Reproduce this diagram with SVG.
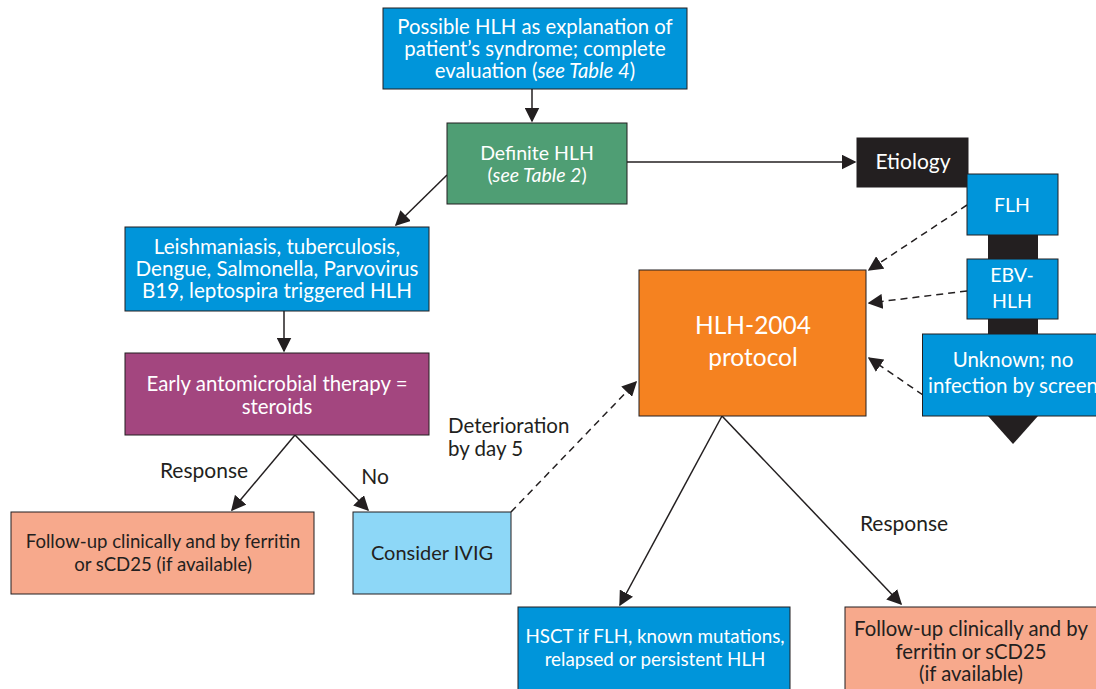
<svg xmlns="http://www.w3.org/2000/svg" width="1096" height="689" viewBox="0 0 1096 689">
<style>
text{font-family:Lato,"Liberation Sans",sans-serif;font-size:19.5px;text-anchor:middle}
.w{fill:#fff}
.k{fill:#231f20}
.box{stroke:#231f20;stroke-width:1}
.blue{fill:#0095da}
.ln{stroke:#231f20;stroke-width:1.5;fill:none}
.dash{stroke-dasharray:7 5}
</style>
<defs>
<marker id="ahb" viewBox="0 0 10 10" refX="9" refY="5" markerWidth="15" markerHeight="15" markerUnits="userSpaceOnUse" orient="auto">
<path d="M0,0 L10,5 L0,10 z" fill="#231f20"/>
</marker>
</defs>
<rect width="1096" height="689" fill="#fff"/>

<g id="etiology-spine">
<path d="M988,187 H1038 V416 L1013,444 L988,416 Z" fill="#231f20"/>
</g>

<g id="connectors">
<line class="ln" x1="532" y1="89" x2="532" y2="121" marker-end="url(#ahb)"/>
<line class="ln" x1="627" y1="162" x2="855" y2="162" marker-end="url(#ahb)"/>
<line class="ln" x1="447" y1="175" x2="396" y2="225" marker-end="url(#ahb)"/>
<line class="ln" x1="284" y1="311" x2="284" y2="351" marker-end="url(#ahb)"/>
<line class="ln" x1="295" y1="435" x2="232" y2="510" marker-end="url(#ahb)"/>
<line class="ln" x1="295" y1="435" x2="368" y2="510" marker-end="url(#ahb)"/>
<line class="ln dash" x1="511" y1="512" x2="636" y2="382" marker-end="url(#ahb)"/>
<line class="ln" x1="722" y1="416" x2="620" y2="605" marker-end="url(#ahb)"/>
<line class="ln" x1="722" y1="416" x2="901" y2="604" marker-end="url(#ahb)"/>
<line class="ln dash" x1="967" y1="205" x2="869" y2="270" marker-end="url(#ahb)"/>
<line class="ln dash" x1="967" y1="291" x2="869" y2="303" marker-end="url(#ahb)"/>
<line class="ln dash" x1="923" y1="395" x2="869" y2="358" marker-end="url(#ahb)"/>
</g>

<g id="possible">
<rect class="box blue" x="383" y="8" width="304" height="81"/>
<text class="w" x="535" y="34" style="font-size:20.3px">Possible HLH as explanation of</text>
<text class="w" x="535" y="56" style="font-size:20.3px">patient’s syndrome; complete</text>
<text class="w" x="535" y="78" style="font-size:20.3px">evaluation (<tspan font-style="italic">see Table 4</tspan>)</text>
</g>

<g id="definite">
<rect class="box" x="447" y="123" width="180" height="81" fill="#4f9e74"/>
<text class="w" x="537" y="160">Definite HLH</text>
<text class="w" x="537" y="182">(<tspan font-style="italic">see Table 2</tspan>)</text>
</g>

<g id="etiology">
<rect class="box" x="857" y="138" width="111" height="49" fill="#231f20"/>
<text class="w" x="913" y="169" style="font-size:21px">Etiology</text>
</g>

<g id="flh">
<rect class="box blue" x="967" y="174" width="91" height="61"/>
<text class="w" x="1012" y="212">FLH</text>
</g>

<g id="ebv">
<rect class="box blue" x="967" y="259" width="91" height="60"/>
<text class="w" x="1012" y="282">EBV-</text>
<text class="w" x="1012" y="308">HLH</text>
</g>

<g id="unknown">
<rect class="box blue" x="922.5" y="334" width="180" height="82"/>
<text class="w" x="1013" y="367" style="font-size:20.5px">Unknown; no</text>
<text class="w" x="928" y="393" style="text-anchor:start;font-size:20.5px">infection by screen</text>
</g>

<g id="protocol">
<rect class="box" x="639" y="270" width="227" height="146" fill="#f58220"/>
<text class="w" x="753" y="334" style="font-size:24.5px">HLH-2004</text>
<text class="w" x="753" y="366" style="font-size:24.5px">protocol</text>
</g>

<g id="infections">
<rect class="box blue" x="125" y="227" width="304" height="84"/>
<text class="w" x="277" y="254" style="font-size:20.6px">Leishmaniasis, tuberculosis,</text>
<text class="w" x="277" y="276" style="font-size:20.6px">Dengue, Salmonella, Parvovirus</text>
<text class="w" x="277" y="298" style="font-size:20.6px">B19, leptospira triggered HLH</text>
</g>

<g id="early">
<rect class="box" x="125" y="353" width="304" height="82" fill="#a3467f"/>
<text class="w" x="277" y="391" style="font-size:20.4px">Early antomicrobial therapy =</text>
<text class="w" x="277" y="414" style="font-size:20.4px">steroids</text>
</g>

<g id="labels">
<text class="k" x="204" y="478" style="font-size:21px">Response</text>
<text class="k" x="375" y="484" style="font-size:21px">No</text>
<text class="k" x="448" y="433" style="text-anchor:start;font-size:20.5px">Deterioration</text>
<text class="k" x="448" y="456" style="text-anchor:start;font-size:20.5px">by day 5</text>
<text class="k" x="904" y="531" style="font-size:21px">Response</text>
</g>

<g id="followup-left">
<rect class="box" x="11" y="512" width="303" height="82" fill="#f7a98c"/>
<text class="k" x="163" y="548" style="font-size:18.6px">Follow-up clinically and by ferritin</text>
<text class="k" x="163" y="571" style="font-size:18.6px">or sCD25 (if available)</text>
</g>

<g id="ivig">
<rect class="box" x="353" y="512" width="158" height="82" fill="#8dd7f7"/>
<text class="k" x="432" y="560" style="font-size:20px">Consider IVIG</text>
</g>

<g id="hsct">
<rect class="box blue" x="518" y="607" width="272" height="90"/>
<text class="w" x="655" y="643" style="font-size:18.8px">HSCT if FLH, known mutations,</text>
<text class="w" x="655" y="666" style="font-size:18.8px">relapsed or persistent HLH</text>
</g>

<g id="followup-right">
<rect class="box" x="845" y="607" width="260" height="90" fill="#f7a98c"/>
<text class="k" x="971" y="636" style="font-size:20.3px">Follow-up clinically and by</text>
<text class="k" x="971" y="658.5" style="font-size:20.3px">ferritin or sCD25</text>
<text class="k" x="971" y="681" style="font-size:20.3px">(if available)</text>
</g>
</svg>
